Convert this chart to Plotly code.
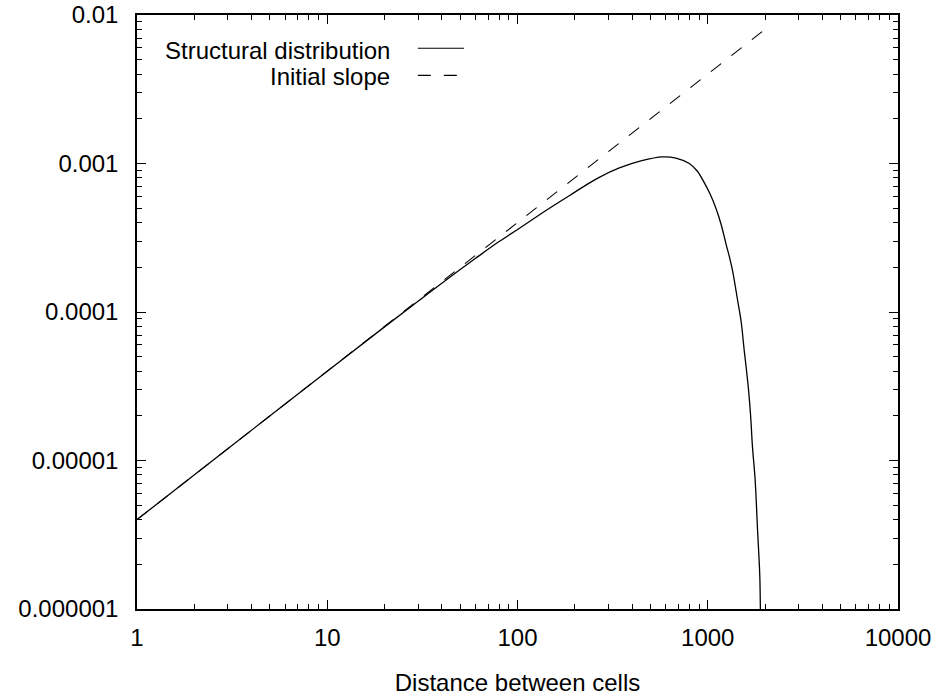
import plotly.graph_objects as go

# Structural distribution (log-log)
struct_x = [1, 3, 10, 20, 30, 42, 60, 80, 102, 130, 150, 188, 230, 269, 343, 450, 577,
            680, 800, 880, 960, 1030, 1104, 1175, 1245, 1300, 1350, 1435, 1500, 1555,
            1600, 1638, 1680, 1718, 1775, 1827, 1860, 1880, 1900]
struct_y = [4.0e-6, 1.2e-5, 3.99e-5, 7.94e-5, 1.182e-4, 1.638e-4, 2.29e-4, 2.98e-4,
            3.65e-4, 4.50e-4, 5.07e-4, 6.09e-4, 7.18e-4, 8.07e-4, 9.33e-4, 1.044e-3,
            1.108e-3, 1.088e-3, 1.0e-3, 8.9e-4, 7.4e-4, 6.2e-4, 5.0e-4, 3.9e-4, 2.9e-4,
            2.35e-4, 1.9e-4, 1.2e-4, 8.5e-5, 5.5e-5, 4.0e-5, 3.0e-5, 2.0e-5, 1.24e-5,
            7.4e-6, 3.4e-6, 2.2e-6, 1.57e-6, 5e-7]

# Initial slope
slope_x = [1, 1950]
slope_y = [4.0e-6, 7.8e-3]

x_tickvals = [1, 10, 100, 1000, 10000]
x_ticktext = ["1", "10", "100", "1000", "10000"]
y_tickvals = [1e-6, 1e-5, 1e-4, 1e-3, 1e-2]
y_ticktext = ["0.000001", "0.00001", "0.0001", "0.001", "0.01"]

series_names = ["Structural distribution", "Initial slope"]

x_minor = [m * d for d in x_tickvals[:-1] for m in range(2, 10)]
y_minor = [m * d for d in y_tickvals[:-1] for m in range(2, 10)]

FONT = "Liberation Sans, Arial, sans-serif"

fig = go.Figure()
fig.add_trace(go.Scatter(x=struct_x, y=struct_y, mode="lines", name=series_names[0],
                         line=dict(color="black", width=1.3, shape="spline", smoothing=1.0),
                         showlegend=False))
fig.add_trace(go.Scatter(x=slope_x, y=slope_y, mode="lines", name=series_names[1],
                         line=dict(color="black", width=1.1, dash="13px,13px"),
                         showlegend=False))

axis_common = dict(
    type="log", showgrid=False, zeroline=False, automargin=False,
    showline=True, linecolor="black", linewidth=1.5, mirror="allticks",
    ticks="inside", ticklen=9, tickcolor="black", tickwidth=1,
    ticklabeloverflow="allow",
    tickfont=dict(family=FONT, size=24, color="black"),
)

fig.update_xaxes(**axis_common, range=[0, 4], tickmode="array",
                 tickvals=x_tickvals, ticktext=x_ticktext,
                 minor=dict(ticks="inside", ticklen=5, tickcolor="black", tickwidth=1,
                            tickmode="array", tickvals=x_minor, showgrid=False),
                 ticklabelstandoff=6,
                 title=dict(text="Distance between cells",
                            font=dict(family=FONT, size=24, color="black"), standoff=25))
fig.update_yaxes(**axis_common, range=[-6, -2], tickmode="array",
                 tickvals=y_tickvals, ticktext=y_ticktext,
                 minor=dict(ticks="inside", ticklen=5, tickcolor="black", tickwidth=1,
                            tickmode="array", tickvals=y_minor, showgrid=False),
                 ticklabelstandoff=12)

# Legend drawn gnuplot-style: text right-aligned, key sample on the right
legend_rows = [(0.9406, 0.944, "solid"), (0.8969, 0.8985, "13px,13px")]
for name, (ty, ly, dash) in zip(series_names, legend_rows):
    fig.add_annotation(xref="paper", yref="paper", x=0.335, y=ty, text=name,
                       showarrow=False, xanchor="right", yanchor="middle",
                       font=dict(family=FONT, size=24, color="black"))
    fig.add_shape(type="line", xref="paper", yref="paper", x0=0.369, x1=0.4297,
                  y0=ly, y1=ly, line=dict(color="black", width=1.2, dash=dash))

fig.update_layout(
    width=939, height=698,
    margin=dict(l=137, r=41, t=15, b=89, autoexpand=False),
    paper_bgcolor="white", plot_bgcolor="white",
    font=dict(family=FONT, size=24, color="black"),
)

fig.write_html("out.html", config={"displayModeBar": False},
               post_script="document.body.style.margin='0';")
